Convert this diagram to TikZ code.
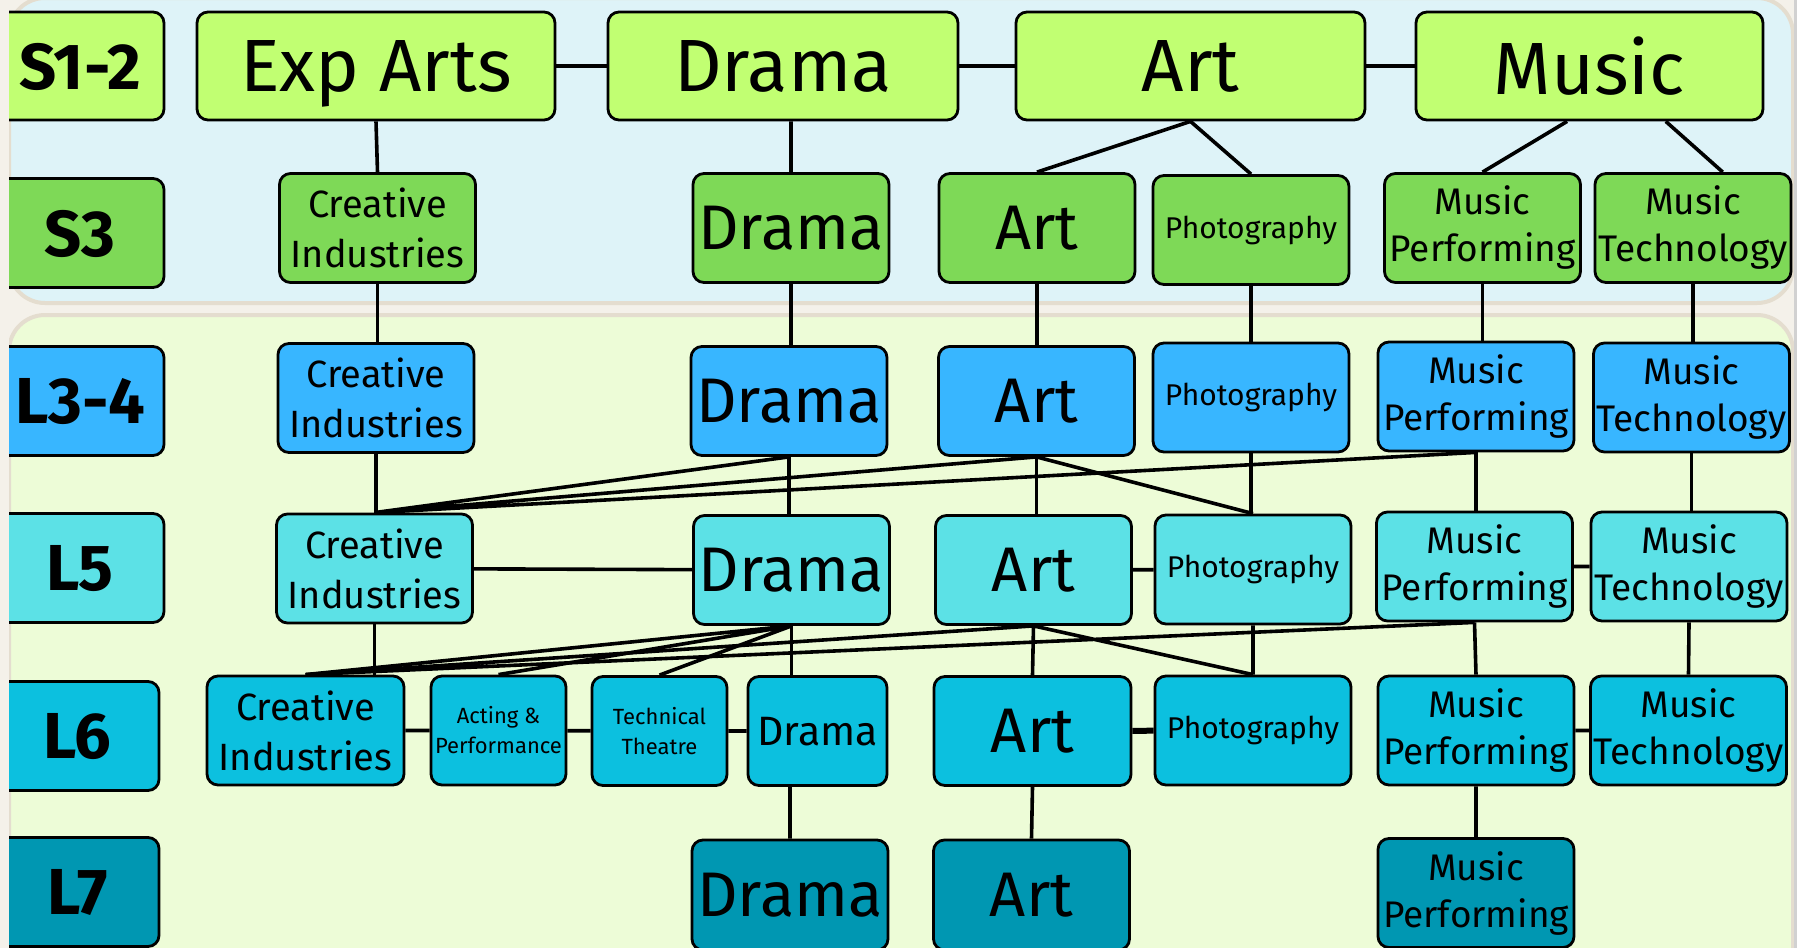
\documentclass[tikz,border=0pt]{standalone}
\usepackage{fontspec}
\setmainfont{Fira Sans}
\usepackage{xcolor}
\usetikzlibrary{calc}

\definecolor{pagebg}{HTML}{F4F1EA}
\definecolor{panelline}{HTML}{E4DDCF}
\definecolor{toppanel}{HTML}{DEF3F8}
\definecolor{lowpanel}{HTML}{EDFCD7}
\definecolor{rowS}{HTML}{C1FF72}
\definecolor{rowT}{HTML}{7ED957}
\definecolor{rowC}{HTML}{38B6FF}
\definecolor{rowD}{HTML}{5CE1E6}
\definecolor{rowE}{HTML}{0CC0DF}
\definecolor{rowF}{HTML}{0097B2}

\begin{document}
\begin{tikzpicture}[x=1pt, y=-1pt,
  box/.style={draw=black, line width=2.8pt, rounded corners=11pt, minimum width=196pt,
    minimum height=109pt, inner sep=0pt, align=center, text=black},
  lvl/.style={box, minimum width=168pt, font=\bfseries\fontsize{65}{65}\selectfont, text depth=0pt},
  big/.style={font=\fontsize{74}{74}\selectfont, text depth=0pt},
  mid/.style={font=\fontsize{63}{63}\selectfont, text depth=0pt},
  two/.style={font=\fontsize{38}{50}\selectfont},
  mus/.style={font=\fontsize{37}{47}\selectfont},
  pho/.style={font=\fontsize{30}{30}\selectfont},
  tiny/.style={font=\fontsize{22}{30}\selectfont},
  link/.style={line width=3.6pt}]

  % Fix the page
  \useasboundingbox (0,0) rectangle (1800,948);
  \fill[pagebg] (0,0) rectangle (1800,948);

  % Draw the two panels
  \filldraw[fill=toppanel, draw=panelline, line width=4pt, rounded corners=36pt] (9,-2) rectangle (1793,303);
  \filldraw[fill=lowpanel, draw=panelline, line width=4pt, rounded corners=36pt] (9,315) rectangle (1793,990);

  % Level labels
  \node[lvl, fill=rowS, minimum height=108pt] (lS12) at (80,66) {S1-2};
  \node[lvl, fill=rowT] (lS3) at (80,233) {S3};
  \node[lvl, fill=rowC] (lL34) at (80,401) {L3-4};
  \node[lvl, fill=rowD] (lL5) at (80,568) {L5};
  \node[lvl, fill=rowE, minimum width=163pt] (lL6) at (77.5,736) {L6};
  \node[lvl, fill=rowF, minimum width=163pt] (lL7) at (77.5,892) {L7};

  % S1-2 row
  \node[box, big, fill=rowS, minimum width=358pt, minimum height=108pt] (s12exp) at (376,66) {Exp Arts};
  \node[box, big, fill=rowS, minimum width=350pt, minimum height=108pt] (s12dra) at (783,66) {Drama};
  \node[box, big, fill=rowS, minimum width=349pt, minimum height=108pt] (s12art) at (1190.5,66) {Art};
  \node[box, big, fill=rowS, minimum width=347pt, minimum height=108pt] (s12mus) at (1589.5,66) {Music};

  % S3 row
  \node[box, two, fill=rowT] (s3ci) at (377.5,228) {Creative\\Industries};
  \node[box, mid, fill=rowT] (s3dra) at (791,228) {Drama};
  \node[box, mid, fill=rowT] (s3art) at (1037,228) {Art};
  \node[box, pho, fill=rowT] (s3pho) at (1251,230) {Photography};
  \node[box, mus, fill=rowT] (s3mp) at (1482.5,228) {Music\\Performing};
  \node[box, mus, fill=rowT] (s3mt) at (1693,228) {Music\\Technology};

  % L3-4 row
  \node[box, two, fill=rowC] (c34ci) at (376,398) {Creative\\Industries};
  \node[box, mid, fill=rowC] (c34dra) at (789,401) {Drama};
  \node[box, mid, fill=rowC] (c34art) at (1036.5,401) {Art};
  \node[box, pho, fill=rowC] (c34pho) at (1251,397.5) {Photography};
  \node[box, mus, fill=rowC] (c34mp) at (1476,396.5) {Music\\Performing};
  \node[box, mus, fill=rowC] (c34mt) at (1691.5,397.5) {Music\\Technology};

  % L5 row
  \node[box, two, fill=rowD] (d5ci) at (374.5,568.5) {Creative\\Industries};
  \node[box, mid, fill=rowD] (d5dra) at (791.5,570) {Drama};
  \node[box, mid, fill=rowD] (d5art) at (1033.5,570) {Art};
  \node[box, pho, fill=rowD] (d5pho) at (1253,569.5) {Photography};
  \node[box, mus, fill=rowD] (d5mp) at (1474.5,566.5) {Music\\Performing};
  \node[box, mus, fill=rowD] (d5mt) at (1689,566.5) {Music\\Technology};

  % L6 row
  \node[box, two, fill=rowE, minimum width=197pt] (e6ci) at (305.5,730.5) {Creative\\Industries};
  \node[box, tiny, fill=rowE, minimum width=135pt] (e6act) at (498.5,730.5) {Acting \&\\Performance};
  \node[box, tiny, fill=rowE, minimum width=135pt] (e6tec) at (659.5,731) {Technical\\Theatre};
  \node[box, fill=rowE, minimum width=139pt, font=\fontsize{41}{41}\selectfont, text depth=0pt] (e6dra) at (817.5,731) {Drama};
  \node[box, mid, fill=rowE, minimum width=197pt] (e6art) at (1032.5,731) {Art};
  \node[box, pho, fill=rowE] (e6pho) at (1253,730.5) {Photography};
  \node[box, mus, fill=rowE] (e6mp) at (1476,730.5) {Music\\Performing};
  \node[box, mus, fill=rowE] (e6mt) at (1688.5,730.5) {Music\\Technology};

  % L7 row
  \node[box, mid, fill=rowF, minimum height=110pt] (f7dra) at (790,895) {Drama};
  \node[box, mid, fill=rowF, minimum height=110pt] (f7art) at (1031.5,895) {Art};
  \node[box, mus, fill=rowF] (f7mp) at (1476,893) {Music\\Performing};

  % Draw the links from S1-2
  \draw[link] (s12exp) -- (s12dra) (s12dra) -- (s12art) (s12art) -- (s12mus);
  \draw[link] (s12exp.south) -- (s3ci.north) (s3dra.north |- s12dra.south) -- (s3dra.north);
  \draw[link] (s12art.south) -- (s3art.north) (s12art.south) -- (s3pho.north);
  \draw[link] (s12mus.248) -- (s3mp.north) (s12mus.324) -- (s3mt.62);

  % Draw the links from S3
  \draw[link] (s3ci.south) -- (s3ci.south |- c34ci.north) (s3dra.south) -- (s3dra.south |- c34dra.north);
  \draw[link] (s3art.south) -- (s3art.south |- c34art.north) (s3pho.south) -- (s3pho.south |- c34pho.north);
  \draw[link] (s3mp.south) -- (s3mp.south |- c34mp.north) (s3mt.south) -- (s3mt.south |- c34mt.north);

  % Draw the links from L3-4
  \draw[link] (c34ci.south) -- (c34ci.south |- d5ci.north) (c34dra.south) -- (c34dra.south |- d5dra.north);
  \draw[link] (c34art.south) -- (c34art.south |- d5art.north) (c34pho.south) -- (c34pho.south |- d5pho.north);
  \draw[link] (c34mp.south) -- (c34mp.south |- d5mp.north) (c34mt.south) -- (c34mt.south |- d5mt.north);
  \draw[link] (d5ci.north) -- (c34dra.south) (d5ci.north) -- (c34art.south) (d5ci.north) -- (c34mp.south);
  \draw[link] (c34art.south) -- (d5pho.north);

  % Draw the links of L5
  \draw[link] (d5ci) -- (d5dra) (d5art) -- (d5pho) (d5mp) -- (d5mt);
  \draw[link] (d5ci.south) -- (d5ci.south |- e6ci.north) (d5dra.south) -- (d5dra.south |- e6dra.north);
  \draw[link] (d5art.south) -- (e6art.north) (d5pho.south) -- (d5pho.south |- e6pho.north);
  \draw[link] (d5mp.south) -- (e6mp.north) (d5mt.south) -- (e6mt.north);
  \draw[link] (d5dra.south) -- (e6ci.north) (d5dra.south) -- (e6act.north) (d5dra.south) -- (e6tec.north);
  \draw[link] (d5art.south) -- (e6ci.north) (d5art.south) -- (e6pho.north) (d5mp.south) -- (e6ci.north);

  % Draw the links of L6
  \draw[link] (e6ci) -- (e6act) (e6act) -- (e6tec) (e6tec) -- (e6dra) (e6mp) -- (e6mt);
  \draw[link, line width=6pt] (e6art) -- (e6pho);
  \draw[link] (e6dra.south -| f7dra.north) -- (f7dra.north) (e6art.south) -- (f7art.north) (e6mp.south) -- (f7mp.north);

  % Trim the page edges
  \fill[pagebg] (0,0) rectangle (9,948);
  \fill[black!18] (1794,0) rectangle (1797,948);
  \fill[white] (1797,0) rectangle (1800,948);

\end{tikzpicture}
\end{document}
